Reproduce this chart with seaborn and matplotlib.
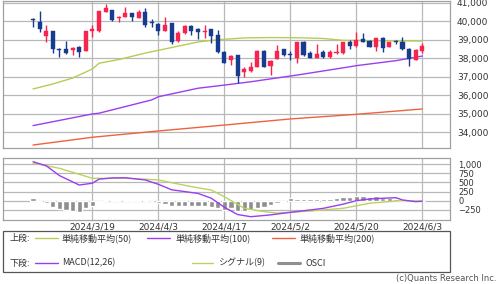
import numpy as np
import pandas as pd
import matplotlib
matplotlib.use("Agg")
import matplotlib.pyplot as plt
import seaborn as sns
from matplotlib.patches import Rectangle
from matplotlib.lines import Line2D

# ---------------- data ----------------
opens = [40080, 39970, 39200, 39470, 38470, 38480, 38450, 38620, 38410, 39490,
         39490, 40510, 40610, 40190, 40240, 40430, 40160, 40510, 39910, 39850,
         39490, 39890, 38950, 39350, 39740, 39580, 39430, 39560, 39260, 38350,
         37900, 38180, 37240, 37330, 37540, 38410, 37600, 37960, 38480, 38190,
         38000, 38860, 38270, 38000, 38320, 38080, 38270, 38270, 38860, 38680,
         39040, 38950, 38590, 39080, 38590, 38910, 38890, 38500, 37900, 38380]
highs = [40160, 40550, 39800, 39500, 38540, 38950, 38600, 38650, 39500, 39800,
         40560, 40930, 40620, 40300, 40780, 40450, 40610, 40700, 40120, 39880,
         40240, 39920, 39450, 39780, 39780, 39620, 39800, 39600, 39520, 38400,
         38200, 38200, 37540, 37810, 38420, 38420, 37880, 38720, 38500, 38410,
         38900, 38920, 38410, 38770, 38450, 38450, 38770, 38900, 38990, 39400,
         39350, 38990, 39100, 39130, 38880, 38990, 39160, 38540, 38480, 38820]
lows = [39670, 39420, 38890, 38270, 38050, 38230, 38160, 38050, 38380, 39160,
        39440, 40500, 40000, 39970, 40240, 40030, 40160, 39700, 39700, 39260,
        39490, 38750, 38860, 39300, 39260, 39020, 39090, 38850, 38290, 37730,
        37640, 36660, 37000, 37270, 37520, 37510, 37090, 37960, 38100, 37900,
        37730, 38100, 38000, 37990, 38000, 38000, 38230, 38230, 38480, 38620,
        38860, 38590, 38410, 38320, 38590, 38770, 38460, 37600, 37880, 38280]
closes = [40050, 39560, 39490, 38500, 38440, 38270, 38570, 38320, 39490, 39580,
          40550, 40700, 40070, 40230, 40430, 40210, 40510, 39800, 39880, 39490,
          39800, 38860, 39350, 39740, 39490, 39400, 39490, 39200, 38320, 37760,
          38140, 37040, 37420, 37540, 38410, 37540, 37870, 38410, 38180, 38170,
          38860, 38180, 38000, 38230, 38080, 38320, 38350, 38860, 38680, 38990,
          38890, 38620, 39080, 38540, 38860, 38880, 38500, 37960, 38450, 38650]

sma50_idx = [0, 3, 6, 9, 10, 13, 17, 21, 25, 28, 32, 36, 40, 44, 47, 52, 56, 59]
sma50_val = [36340, 36610, 36930, 37420, 37730, 37930, 38280, 38580, 38880, 39000,
             39100, 39120, 39110, 39070, 38970, 38950, 38940, 38930]
sma100_idx = [0, 9, 10, 18, 19, 25, 29, 33, 39, 40, 48, 49, 55, 59]
sma100_val = [34360, 34990, 35030, 35750, 35920, 36380, 36550, 36730, 37040, 37090,
              37540, 37600, 37870, 38120]
sma200_idx = [0, 9, 19, 29, 39, 49, 59]
sma200_val = [33310, 33730, 34070, 34390, 34720, 34970, 35260]

macd_idx = [0, 2, 4, 7, 9, 10, 12, 14, 17, 19, 21, 25, 27, 29, 31, 33, 36, 39, 42, 44,
            47, 49, 51, 53, 55, 56, 58, 59]
macd_val = [1070, 960, 690, 430, 480, 590, 625, 630, 570, 450, 300, 200, 70, -180,
            -380, -440, -390, -320, -255, -210, -95, 0, 47, 66, 82, 20, -27, -15]
signal_idx = [0, 4, 9, 14, 17, 19, 24, 27, 29, 32, 35, 37, 39, 42, 47, 51, 55, 56, 59]
signal_val = [1030, 890, 615, 615, 590, 570, 385, 294, 110, -209, -300, -340, -319,
              -283, -209, -71, -8, 0, -10]
osci_val = [64, -27, -73, -165, -229, -256, -275, -302, -210, -150,
            -30, 20, 15, 15, 15, 15, 15, 10, -20, -55,
            -90, -137, -137, -145, -150, -150, -150, -165, -210, -256,
            -210, -284, -284, -256, -210, -165, -119, -73, -46, 64,
            55, 50, 50, 50, 50, 50, 64, 110, 110, 137,
            137, 110, 128, 82, 64, 46, 18, 0, -27, -18]

date_tick_idx = [9, 19, 29, 39, 49, 59]
date_tick_labels = ["2024/3/19", "2024/4/3", "2024/4/17", "2024/5/2", "2024/5/20", "2024/6/3"]
price_ticks = [34000, 35000, 36000, 37000, 38000, 39000, 40000, 41000]
macd_ticks = [-250, 0, 250, 500, 750, 1000]

# ---------------- style ----------------
sns.set_style("white")
plt.rcParams['font.family'] = ['DejaVu Sans', 'Noto Sans CJK JP']
JP = ['Noto Sans CJK JP', 'DejaVu Sans']

RED = "#f6244f"
BLUE = "#173b8f"
C50 = "#b7cc55"
C100 = "#9b3df0"
C200 = "#ef623e"
CSIG = "#b9d45e"
COSC = "#8f8f8f"
GRID = "#b8b8b8"
SPINE = "#a0a0a0"

fig = plt.figure(figsize=(5.0, 2.84), dpi=100)
ax = fig.add_axes([0.006, 0.478, 0.894, 0.520])
ax2 = fig.add_axes([0.006, 0.2254, 0.894, 0.2173])

XL = (-4.55, 63.2)

# ---------------- main panel ----------------
n = len(opens)
idx = np.arange(n)
df = pd.DataFrame({"i": idx, "o": opens, "h": highs, "l": lows, "c": closes})
up = df["c"] >= df["o"]
colors = np.where(up, RED, BLUE)
ax.vlines(df["i"], df["l"], df["h"], colors=colors, lw=1.0, zorder=3)
body_lo = np.minimum(df["o"], df["c"])
body_h = np.maximum(np.abs(df["c"] - df["o"]), 60)
ax.bar(df["i"], body_h, bottom=body_lo, width=0.62, color=colors, edgecolor=colors,
       lw=0.3, zorder=4)

sns.lineplot(x=sma50_idx, y=sma50_val, ax=ax, color=C50, lw=1.0, zorder=2)
sns.lineplot(x=sma100_idx, y=sma100_val, ax=ax, color=C100, lw=1.0, zorder=2)
sns.lineplot(x=sma200_idx, y=sma200_val, ax=ax, color=C200, lw=1.0, zorder=2)

ax.set_xlim(*XL)
ax.set_ylim(33136, 41119)
ax.yaxis.tick_right()
ax.set_yticks(price_ticks)
ax.set_yticklabels([f"{v:,}" for v in price_ticks])
ax.set_xticks(date_tick_idx)
ax.set_xticklabels([])
ax.tick_params(axis='y', length=0, pad=5, labelsize=6.5, colors="#333333")
ax.tick_params(axis='x', length=0)
ax.grid(True, color=GRID, lw=0.9)
ax.set_axisbelow(True)
ax.set_xlabel("")
ax.set_ylabel("")

# ---------------- lower panel ----------------
ax2.bar(idx, osci_val, width=0.8, color=COSC, zorder=2)
sns.lineplot(x=signal_idx, y=signal_val, ax=ax2, color=CSIG, lw=1.0, zorder=3)
sns.lineplot(x=macd_idx, y=macd_val, ax=ax2, color=C100, lw=1.0, zorder=4)
ax2.set_xlim(*XL)
ax2.set_ylim(-530, 1165)
ax2.yaxis.tick_right()
ax2.set_yticks(macd_ticks)
ax2.set_yticklabels([f"{v:,}" if v >= 0 else f"\u2212{abs(v):,}" for v in macd_ticks])
ax2.set_xticks(date_tick_idx)
ax2.set_xticklabels(date_tick_labels)
ax2.tick_params(axis='y', length=0, pad=6, labelsize=6, colors="#333333")
ax2.tick_params(axis='x', length=0, pad=2, labelsize=6.5, colors="#333333")
ax2.grid(True, color=GRID, lw=0.9)
ax2.set_axisbelow(True)
ax2.set_xlabel("")
ax2.set_ylabel("")

for a in (ax, ax2):
    for s in a.spines.values():
        s.set_color(SPINE)
        s.set_linewidth(0.9)

# ---------------- legend box ----------------
fig.add_artist(Rectangle((0.006, 0.044), 0.894, 0.141, transform=fig.transFigure,
                         fill=False, edgecolor="#555555", lw=0.9))
r1 = 1 - 238 / 284
r2 = 1 - 263 / 284
fs = 6.5
fig.text(0.02, r1, "上段:", fontsize=fs, va='center', family=JP, color="#333333")
fig.text(0.02, r2, "下段:", fontsize=fs, va='center', family=JP, color="#333333")

legend_items = [
    (r1, 0.070, 0.116, 0.124, C50, 1.0, "単純移動平均(50)"),
    (r1, 0.294, 0.340, 0.350, C100, 1.0, "単純移動平均(100)"),
    (r1, 0.544, 0.590, 0.600, C200, 1.0, "単純移動平均(200)"),
    (r2, 0.070, 0.116, 0.124, C100, 1.0, "MACD(12,26)"),
    (r2, 0.384, 0.426, 0.436, CSIG, 1.0, "シグナル(9)"),
    (r2, 0.556, 0.600, 0.610, COSC, 2.2, "OSCI"),
]
for (yy, x0, x1, xt, col, lw, lab) in legend_items:
    fig.add_artist(Line2D([x0, x1], [yy, yy], transform=fig.transFigure, color=col, lw=lw))
    fig.text(xt, yy, lab, fontsize=fs, va='center', family=JP, color="#333333")

fig.text(0.992, 1 - 279 / 284, "(c)Quants Research Inc.", ha='right', va='center',
         fontsize=6, color="#555555")

fig.savefig("out.png", dpi=100)
